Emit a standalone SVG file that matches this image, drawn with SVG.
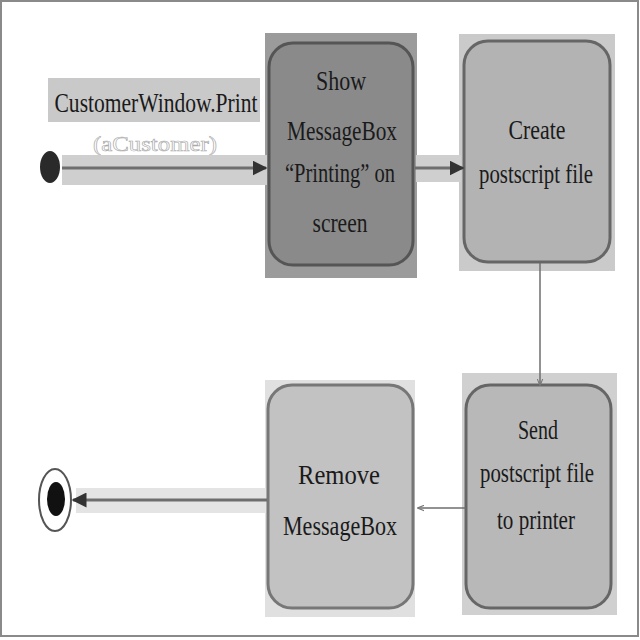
<svg xmlns="http://www.w3.org/2000/svg" width="640" height="640" viewBox="0 0 640 640">
<style>
  .t{font-family:"Liberation Serif","DejaVu Serif",serif;font-size:28px;fill:#1a1a1a;text-anchor:middle}
  .bg{stroke:none}
  .box{stroke:#555;stroke-width:3}
  .band{fill:#cfcfcf;stroke:none}
  .ln{stroke:#6e6e6e;fill:none}
</style>
<defs>
  <marker id="ah" viewBox="0 0 10 10" refX="9" refY="5" markerWidth="5" markerHeight="5" orient="auto-start-reverse">
    <path d="M0,0 L10,5 L0,10 z" fill="#333"/>
  </marker>
  <marker id="ahs" viewBox="0 0 10 10" refX="9" refY="5" markerWidth="7" markerHeight="7" orient="auto-start-reverse" markerUnits="userSpaceOnUse">
    <path d="M0,1 L10,5 L0,9" fill="none" stroke="#777" stroke-width="1.5"/>
  </marker>
</defs>
<rect x="0" y="0" width="640" height="640" fill="#ffffff"/>
<rect x="1" y="1" width="637" height="635" fill="none" stroke="#8a8a8a" stroke-width="2"/>

<g id="label">
  <rect x="48" y="78" width="212" height="44" fill="#c9c9c9"/>
  <text class="t" x="156" y="112" textLength="203" lengthAdjust="spacingAndGlyphs">CustomerWindow.Print</text>
  <text x="155" y="151" font-family="Liberation Serif, serif" font-size="20" text-anchor="middle" fill="#ffffff" stroke="#aaaaaa" stroke-width="0.6" textLength="124" lengthAdjust="spacingAndGlyphs">(aCustomer)</text>
</g>

<g id="initial">
  <ellipse cx="50" cy="167" rx="10" ry="16" fill="#2a2a2a"/>
</g>

<g id="show">
  <rect class="bg" x="265" y="33" width="152" height="245" fill="#9b9b9b"/>
  <rect class="box" x="269" y="43" width="144" height="222" rx="24" ry="24" fill="#8a8a8a"/>
  <text class="t" x="341" y="90" textLength="50" lengthAdjust="spacingAndGlyphs">Show</text>
  <text class="t" x="342" y="140" textLength="110" lengthAdjust="spacingAndGlyphs">MessageBox</text>
  <text class="t" x="340" y="182" textLength="110" lengthAdjust="spacingAndGlyphs">“Printing” on</text>
  <text class="t" x="340" y="232" textLength="55" lengthAdjust="spacingAndGlyphs">screen</text>
</g>

<g id="create">
  <rect class="bg" x="459" y="34" width="156" height="237" fill="#cacaca"/>
  <rect class="box" x="464" y="41" width="146" height="221" rx="24" ry="24" fill="#b3b3b3" style="stroke:#666"/>
  <text class="t" x="537" y="139" textLength="57" lengthAdjust="spacingAndGlyphs">Create</text>
  <text class="t" x="536" y="183" textLength="114" lengthAdjust="spacingAndGlyphs">postscript file</text>
</g>

<g id="send">
  <rect class="bg" x="462" y="373" width="155" height="242" fill="#d0d0d0"/>
  <rect class="box" x="466" y="385" width="145" height="223" rx="24" ry="24" fill="#b8b8b8" style="stroke:#666"/>
  <text class="t" x="538" y="439" textLength="40" lengthAdjust="spacingAndGlyphs">Send</text>
  <text class="t" x="537" y="482" textLength="114" lengthAdjust="spacingAndGlyphs">postscript file</text>
  <text class="t" x="536" y="529" textLength="78" lengthAdjust="spacingAndGlyphs">to printer</text>
</g>

<g id="remove">
  <rect class="bg" x="265" y="380" width="150" height="237" fill="#e0e0e0"/>
  <rect class="box" x="268" y="385" width="145" height="223" rx="24" ry="24" fill="#c2c2c2" style="stroke:#777"/>
  <text class="t" x="339" y="484" textLength="82" lengthAdjust="spacingAndGlyphs">Remove</text>
  <text class="t" x="340" y="535" textLength="114" lengthAdjust="spacingAndGlyphs">MessageBox</text>
</g>

<g id="final">
  <ellipse cx="55" cy="500" rx="16" ry="31" fill="#ffffff" stroke="#555" stroke-width="2"/>
  <ellipse cx="56" cy="499" rx="9" ry="17" fill="#111"/>
</g>

<g id="connectors">
  <rect class="band" x="62" y="155" width="205" height="30"/>
  <line class="ln" x1="62" y1="168" x2="266" y2="168" stroke-width="3" marker-end="url(#ah)"/>
  <rect class="band" x="416" y="155" width="45" height="27"/>
  <line class="ln" x1="415" y1="168" x2="463" y2="168" stroke-width="3" marker-end="url(#ah)"/>
  <line class="ln" x1="540" y1="263" x2="540" y2="385" stroke-width="1.5" marker-end="url(#ahs)"/>
  <line class="ln" x1="466" y1="508" x2="418" y2="508" stroke-width="1.5" marker-end="url(#ahs)"/>
  <rect class="band" x="76" y="488" width="190" height="25" style="fill:#e4e4e4"/>
  <line class="ln" x1="267" y1="500" x2="73" y2="500" stroke-width="3" marker-end="url(#ah)"/>
</g>
</svg>
